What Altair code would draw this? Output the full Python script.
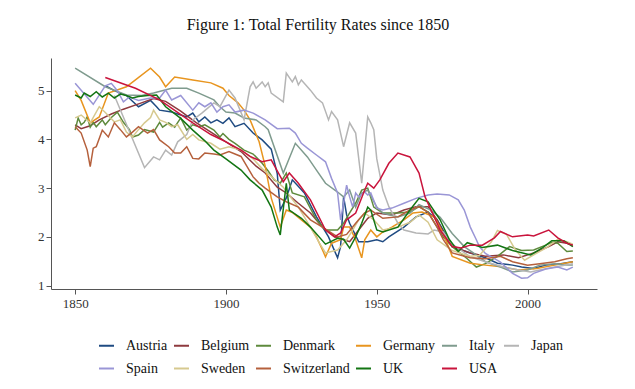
import altair as alt
import pandas as pd

countries = ["Austria", "Belgium", "Denmark", "Germany", "Italy", "Japan",
             "Spain", "Sweden", "Switzerland", "UK", "USA"]
colors = ["#1f4b82", "#8e3a3e", "#5e8a3c", "#e8951f", "#7f9b8e", "#b5b5b5",
          "#9a96d6", "#d6c98f", "#b5603c", "#137513", "#c9143c"]

austria_years = [1860, 1863, 1867, 1871, 1875, 1877, 1878, 1882, 1887, 1889, 1891, 1893, 1895, 1897, 1899,
                 1901, 1903, 1906, 1909, 1912, 1915, 1917, 1918, 1920, 1922, 1926, 1930, 1934, 1937, 1938,
                 1939, 1940, 1941, 1944, 1947, 1950, 1952, 1954, 1959, 1963, 1967, 1970, 1972, 1975, 1981,
                 1986, 1990, 1995, 1998, 2002, 2006, 2011, 2015]
austria_tfr = [5.10, 5.00, 4.90, 4.67, 4.80, 4.67, 4.60, 4.56, 4.46, 4.54, 4.36, 4.46, 4.34, 4.40, 4.33,
               4.44, 4.26, 4.33, 4.13, 3.99, 3.80, 3.30, 2.55, 2.80, 3.17, 2.90, 2.41, 2.00, 1.57, 1.80,
               2.82, 2.45, 2.28, 1.90, 1.90, 1.94, 1.90, 2.00, 2.20, 2.41, 2.51, 2.35, 2.14, 1.80, 1.67,
               1.57, 1.46, 1.42, 1.38, 1.35, 1.42, 1.45, 1.49]

belgium_years = [1850, 1852, 1855, 1858, 1862, 1866, 1872, 1876, 1880, 1885, 1890, 1895, 1900, 1905, 1910,
                 1913, 1917, 1920, 1924, 1928, 1932, 1936, 1939, 1941, 1944, 1947, 1950, 1955, 1959, 1963,
                 1967, 1970, 1972, 1975, 1981, 1986, 1992, 1997, 2002, 2007, 2010, 2013, 2015]
belgium_tfr = [4.30, 4.22, 4.28, 4.40, 4.52, 4.62, 4.75, 4.84, 4.78, 4.58, 4.35, 4.15, 3.95, 3.75, 3.45,
               3.31, 3.02, 2.90, 2.69, 2.49, 2.20, 2.00, 1.94, 1.90, 2.14, 2.38, 2.49, 2.45, 2.55, 2.62,
               2.62, 2.35, 2.10, 1.80, 1.67, 1.60, 1.63, 1.57, 1.67, 1.80, 1.90, 1.87, 1.83]

denmark_years = [1850, 1851, 1852, 1853, 1854, 1855, 1856, 1857, 1859, 1860, 1862, 1864, 1866, 1868, 1869,
                 1871, 1873, 1876, 1878, 1879, 1881, 1883, 1885, 1887, 1889, 1891, 1893, 1896, 1898, 1899,
                 1901, 1903, 1906, 1909, 1912, 1914, 1916, 1918, 1920, 1922, 1926, 1930, 1933, 1937, 1939,
                 1941, 1943, 1945, 1947, 1949, 1952, 1957, 1961, 1964, 1967, 1970, 1972, 1975, 1980, 1983,
                 1986, 1990, 1994, 1998, 2002, 2006, 2008, 2010, 2013, 2015]
denmark_tfr = [4.19, 4.44, 4.30, 4.35, 4.46, 4.25, 4.35, 4.26, 4.40, 4.30, 4.45, 4.56, 4.35, 4.20, 4.05,
               4.09, 4.20, 4.15, 4.35, 4.25, 4.34, 4.25, 4.44, 4.19, 4.30, 4.26, 4.30, 4.19, 4.05, 4.12,
               4.00, 3.92, 3.78, 3.70, 3.51, 3.35, 3.17, 3.10, 3.31, 2.90, 2.82, 2.35, 2.14, 2.14, 2.28,
               2.49, 2.69, 2.96, 3.00, 2.61, 2.49, 2.49, 2.51, 2.62, 2.51, 2.20, 2.00, 1.80, 1.55, 1.38,
               1.45, 1.60, 1.80, 1.72, 1.73, 1.83, 1.89, 1.87, 1.70, 1.71]

germany_years = [1850, 1852, 1855, 1858, 1861, 1867, 1870, 1875, 1878, 1880, 1883, 1889, 1895, 1899, 1901,
                 1904, 1906, 1908, 1911, 1913, 1915, 1917, 1918, 1920, 1922, 1925, 1928, 1930, 1932, 1933,
                 1935, 1938, 1939, 1941, 1943, 1945, 1946, 1948, 1950, 1952, 1955, 1959, 1962, 1965, 1969,
                 1972, 1975, 1981, 1986, 1992, 1997, 2003, 2009, 2015]
germany_tfr = [5.00, 4.80, 4.34, 4.46, 4.95, 5.08, 5.22, 5.46, 5.28, 5.08, 5.28, 5.22, 5.16, 5.05, 4.90,
               4.75, 4.60, 4.40, 3.95, 3.45, 2.80, 2.40, 2.20, 2.55, 2.50, 2.35, 2.20, 2.00, 1.73, 1.59,
               1.87, 1.94, 2.20, 2.20, 1.94, 1.57, 1.94, 2.14, 2.00, 2.10, 2.20, 2.35, 2.49, 2.51, 2.41,
               2.08, 1.60, 1.46, 1.42, 1.38, 1.32, 1.35, 1.42, 1.49]

italy_years = [1850, 1860, 1867, 1872, 1876, 1882, 1887, 1891, 1896, 1898, 1900, 1903, 1906, 1910, 1913,
               1914, 1919, 1923, 1927, 1930, 1933, 1937, 1939, 1941, 1943, 1945, 1947, 1950, 1952, 1957,
               1961, 1964, 1968, 1971, 1975, 1979, 1982, 1986, 1991, 1995, 2000, 2004, 2009, 2013, 2015]
italy_tfr = [5.46, 5.08, 4.91, 4.90, 4.95, 5.05, 5.05, 4.95, 4.81, 4.67, 4.56, 4.54, 4.44, 4.40, 4.26,
             4.20, 3.31, 3.92, 3.64, 3.37, 3.10, 2.92, 2.82, 2.96, 2.61, 2.90, 2.96, 2.61, 2.49, 2.41,
             2.49, 2.66, 2.55, 2.40, 2.07, 1.80, 1.67, 1.49, 1.38, 1.28, 1.32, 1.42, 1.45, 1.42, 1.42]

japan_years = [1863, 1873, 1876, 1878, 1880, 1882, 1884, 1887, 1889, 1892, 1896, 1898, 1901, 1903, 1906,
               1908, 1909, 1910, 1912, 1913, 1914, 1915, 1919, 1920, 1922, 1923, 1924, 1925, 1928, 1930,
               1932, 1934, 1935, 1937, 1939, 1941, 1943, 1945, 1947, 1948, 1949, 1950, 1952, 1954, 1957,
               1959, 1963, 1967, 1969, 1972, 1975, 1981, 1986, 1992, 1997, 2001, 2004, 2009, 2015]
japan_tfr = [4.90, 3.42, 3.64, 3.58, 3.78, 3.68, 3.95, 4.10, 4.40, 4.54, 4.75, 4.67, 5.01, 4.85, 4.40,
             5.08, 5.18, 5.05, 5.18, 5.08, 5.16, 4.95, 4.77, 5.36, 5.18, 5.29, 5.12, 5.22, 5.01, 4.85,
             4.75, 4.40, 4.57, 4.40, 3.85, 4.34, 4.13, 3.10, 4.46, 4.34, 4.20, 3.60, 2.96, 2.62, 2.28,
             2.14, 2.08, 2.06, 2.14, 2.10, 1.85, 1.59, 1.49, 1.38, 1.32, 1.28, 1.32, 1.38, 1.45]

spain_years = [1850, 1856, 1860, 1862, 1864, 1866, 1868, 1871, 1875, 1878, 1880, 1882, 1885, 1889, 1891,
               1893, 1895, 1897, 1899, 1901, 1903, 1906, 1909, 1913, 1917, 1921, 1923, 1925, 1927, 1930,
               1933, 1935, 1937, 1938, 1939, 1940, 1941, 1942, 1943, 1944, 1946, 1947, 1948, 1950, 1952,
               1955, 1959, 1963, 1967, 1970, 1974, 1977, 1979, 1981, 1983, 1984, 1986, 1991, 1995, 1998,
               2000, 2002, 2006, 2010, 2013, 2015]
spain_tfr = [5.15, 4.72, 5.10, 5.15, 5.00, 4.77, 4.87, 4.80, 4.85, 4.85, 5.01, 4.81, 4.90, 4.60, 4.75,
             4.67, 4.75, 4.56, 4.67, 4.71, 4.56, 4.60, 4.54, 4.40, 4.22, 4.23, 4.13, 3.92, 3.82, 3.68,
             3.54, 3.20, 2.90, 2.35, 2.69, 3.06, 2.82, 2.61, 2.90, 2.82, 2.92, 2.86, 2.90, 2.59, 2.55,
             2.59, 2.69, 2.79, 2.86, 2.88, 2.86, 2.76, 2.55, 2.20, 1.94, 1.80, 1.66, 1.48, 1.25, 1.15,
             1.16, 1.25, 1.34, 1.38, 1.32, 1.38]

sweden_years = [1850, 1852, 1855, 1858, 1860, 1863, 1865, 1867, 1869, 1871, 1873, 1875, 1876, 1878, 1880,
                1882, 1884, 1887, 1889, 1891, 1895, 1898, 1901, 1905, 1909, 1912, 1915, 1919, 1921, 1924,
                1928, 1931, 1933, 1937, 1940, 1942, 1944, 1946, 1949, 1952, 1957, 1961, 1964, 1967, 1970,
                1975, 1981, 1984, 1988, 1990, 1993, 1996, 1999, 2002, 2006, 2010, 2013, 2015]
sweden_tfr = [4.44, 4.50, 4.34, 4.67, 4.55, 4.36, 4.40, 4.15, 4.05, 4.20, 4.34, 4.45, 4.60, 4.40, 4.35,
              4.26, 4.30, 4.00, 4.10, 3.99, 3.92, 3.80, 3.85, 3.78, 3.60, 3.40, 3.24, 3.02, 2.85, 2.61,
              2.20, 1.87, 1.67, 1.73, 1.94, 2.14, 2.35, 2.49, 2.35, 2.14, 2.20, 2.30, 2.45, 2.30, 1.94,
              1.72, 1.60, 1.62, 1.90, 2.13, 2.05, 1.73, 1.52, 1.63, 1.77, 1.95, 1.90, 1.85]

swiss_years = [1850, 1852, 1854, 1855, 1856, 1857, 1859, 1861, 1863, 1865, 1867, 1869, 1871, 1874, 1876,
               1878, 1881, 1883, 1885, 1887, 1889, 1891, 1893, 1896, 1898, 1901, 1905, 1909, 1911, 1913,
               1917, 1920, 1924, 1928, 1932, 1937, 1940, 1943, 1946, 1948, 1952, 1957, 1961, 1964, 1967,
               1970, 1972, 1975, 1981, 1986, 1991, 1995, 2000, 2004, 2009, 2013, 2015]
swiss_tfr = [4.26, 4.13, 3.78, 3.44, 3.82, 3.85, 4.19, 4.05, 4.34, 4.20, 4.05, 4.15, 4.26, 4.13, 4.20,
             3.99, 3.85, 3.72, 3.72, 3.85, 3.61, 3.60, 3.72, 3.70, 3.68, 3.75, 3.65, 3.23, 3.10, 3.00,
             2.82, 2.72, 2.61, 2.35, 2.20, 2.00, 2.05, 2.28, 2.49, 2.55, 2.38, 2.41, 2.55, 2.62, 2.50,
             2.20, 1.95, 1.67, 1.57, 1.55, 1.60, 1.49, 1.42, 1.45, 1.49, 1.55, 1.57]

uk_years = [1850, 1852, 1853, 1855, 1857, 1859, 1861, 1863, 1865, 1867, 1869, 1871, 1874, 1877, 1880,
            1885, 1889, 1893, 1896, 1900, 1905, 1908, 1912, 1915, 1917, 1918, 1920, 1921, 1925, 1928,
            1933, 1937, 1939, 1941, 1943, 1945, 1947, 1948, 1950, 1952, 1957, 1961, 1964, 1967, 1971,
            1974, 1977, 1980, 1985, 1990, 1995, 2001, 2005, 2008, 2012, 2015]
uk_tfr = [4.91, 4.85, 4.95, 4.88, 4.98, 4.87, 4.95, 4.85, 4.93, 4.90, 4.85, 4.88, 4.90, 4.91, 4.67,
          4.43, 4.19, 3.97, 3.78, 3.60, 3.37, 3.17, 2.96, 2.61, 2.20, 2.04, 3.10, 2.55, 2.38, 2.20,
          1.85, 1.97, 1.95, 1.77, 2.00, 2.28, 2.61, 2.55, 2.14, 2.10, 2.20, 2.55, 2.79, 2.72, 2.35,
          1.95, 1.70, 1.88, 1.78, 1.83, 1.72, 1.63, 1.78, 1.92, 1.92, 1.80]

usa_years = [1860, 1870, 1878, 1889, 1895, 1900, 1905, 1908, 1912, 1915, 1919, 1921, 1924, 1928, 1933,
             1936, 1938, 1940, 1943, 1946, 1947, 1949, 1951, 1954, 1957, 1961, 1964, 1966, 1968, 1971,
             1975, 1978, 1981, 1985, 1989, 1991, 1995, 2000, 2002, 2007, 2010, 2013, 2015]
usa_tfr = [5.27, 5.05, 4.81, 4.34, 4.10, 3.95, 3.78, 3.65, 3.54, 3.58, 3.13, 3.31, 3.10, 2.76, 2.14,
           2.00, 2.08, 2.35, 2.49, 2.96, 3.10, 3.00, 3.17, 3.51, 3.72, 3.64, 3.31, 2.82, 2.55, 2.14,
           1.80, 1.77, 1.83, 1.83, 1.98, 2.11, 2.00, 2.04, 2.02, 2.14, 1.98, 1.87, 1.83]

series = {
    "Austria": (austria_years, austria_tfr),
    "Belgium": (belgium_years, belgium_tfr),
    "Denmark": (denmark_years, denmark_tfr),
    "Germany": (germany_years, germany_tfr),
    "Italy": (italy_years, italy_tfr),
    "Japan": (japan_years, japan_tfr),
    "Spain": (spain_years, spain_tfr),
    "Sweden": (sweden_years, sweden_tfr),
    "Switzerland": (swiss_years, swiss_tfr),
    "UK": (uk_years, uk_tfr),
    "USA": (usa_years, usa_tfr),
}

rows = []
for name in countries:
    ys, vs = series[name]
    for yr, v in zip(ys, vs):
        rows.append({"country": name, "year": yr, "tfr": v})
df = pd.DataFrame(rows)

FONT = "Liberation Serif"

chart = alt.Chart(df).mark_line(strokeWidth=1.5).encode(
    x=alt.X("year:Q",
            scale=alt.Scale(domain=[1842, 2023], nice=False, zero=False),
            axis=alt.Axis(values=[1850, 1900, 1950, 2000], format="d", title=None, grid=False,
                          labelFlush=False, labelPadding=3)),
    y=alt.Y("tfr:Q",
            scale=alt.Scale(domain=[0.93, 5.67], nice=False, zero=False),
            axis=alt.Axis(values=[1, 2, 3, 4, 5], title=None, grid=False, labelPadding=2)),
    color=alt.Color("country:N",
                    scale=alt.Scale(domain=countries, range=colors),
                    legend=alt.Legend(title=None, orient="none", legendX=47, legendY=279,
                                      direction="horizontal", columns=6,
                                      symbolType="stroke", symbolSize=225, symbolStrokeWidth=2,
                                      labelOffset=11, columnPadding=2, rowPadding=7, padding=0,
                                      labelLimit=200)),
).properties(
    width=546,
    height=231,
    autosize=alt.AutoSizeParams(type="none"),
    padding={"left": 43, "top": 50, "right": 30, "bottom": 92},
    title=alt.TitleParams("Figure 1: Total Fertility Rates since 1850", anchor="middle",
                          offset=25, dx=-6),
).configure_view(
    stroke=None
).configure_axis(
    labelFont=FONT, labelFontSize=13, labelColor="#333333",
    domainColor="#555555", tickColor="#555555", tickSize=5
).configure_legend(
    labelFont=FONT, labelFontSize=14, labelColor="#111111"
).configure_title(
    font=FONT, fontSize=16, fontWeight="normal", color="#111111"
)

chart.save("out.html", embed_options={"renderer": "svg", "actions": False})
